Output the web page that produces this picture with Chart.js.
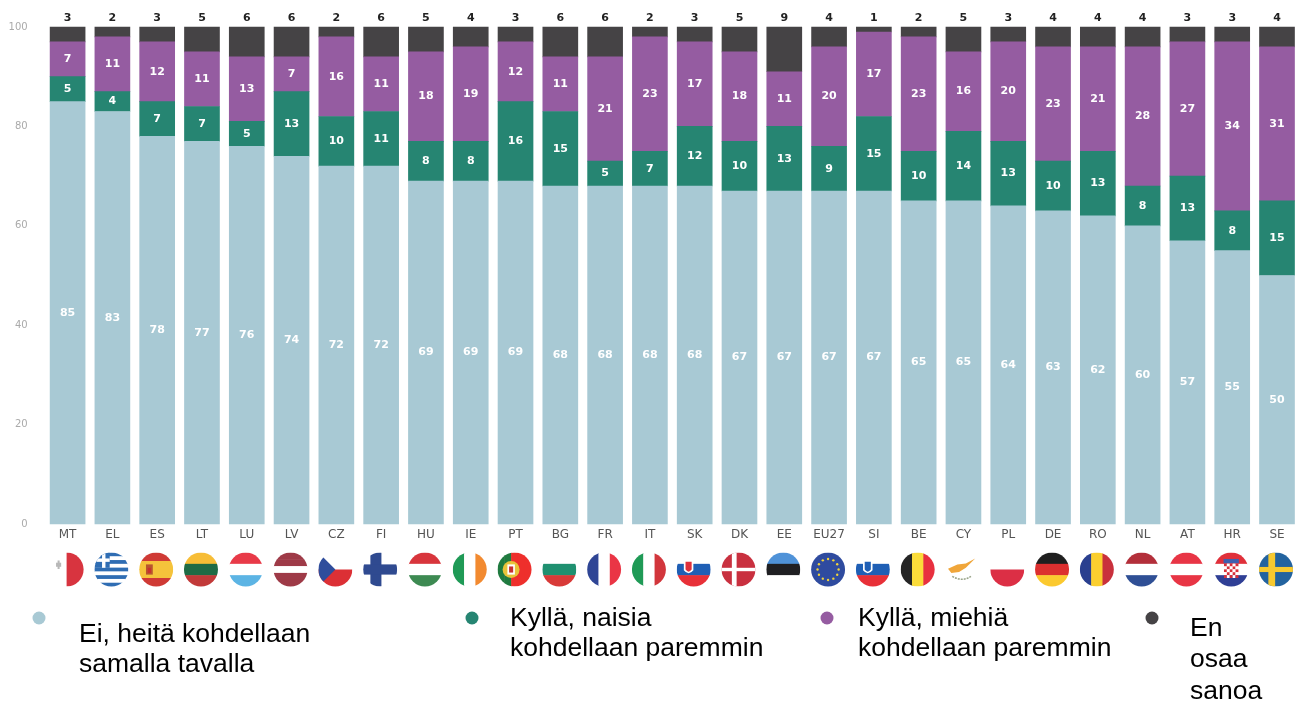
<!DOCTYPE html>
<html><head><meta charset="utf-8">
<style>html,body{margin:0;padding:0;background:#fff;overflow:hidden}canvas{display:block}</style>
<script src="https://cdn.jsdelivr.net/npm/chart.js@4/dist/chart.umd.min.js"></script>
</head><body>
<div style="width:1295px;height:702px;position:relative"><canvas id="c" width="1295" height="702"></canvas></div>
<script>
const categories=["MT","EL","ES","LT","LU","LV","CZ","FI","HU","IE","PT","BG","FR","IT","SK","DK","EE","EU27","SI","BE","CY","PL","DE","RO","NL","AT","HR","SE"];
const same=[85,83,78,77,76,74,72,72,69,69,69,68,68,68,68,67,67,67,67,65,65,64,63,62,60,57,55,50];
const women=[5,4,7,7,5,13,10,11,8,8,16,15,5,7,12,10,13,9,15,10,14,13,10,13,8,13,8,15];
const men=[7,11,12,11,13,7,16,11,18,19,12,11,21,23,17,18,11,20,17,23,16,20,23,21,28,27,34,31];
const dontKnow=[3,2,3,5,6,6,2,6,5,4,3,6,6,2,3,5,9,4,1,2,5,3,4,4,4,3,3,4];
const yTicks=[0,20,40,60,80,100];
const seriesNames=["Ei, heitä kohdellaan samalla tavalla","Kyllä, naisia kohdellaan paremmin","Kyllä, miehiä kohdellaan paremmin","En osaa sanoa"];
const seriesColors=["#a8c9d4","#268572","#955ca1","#454345"];
const legendLines=[["Ei, heitä kohdellaan","samalla tavalla"],["Kyllä, naisia","kohdellaan paremmin"],["Kyllä, miehiä","kohdellaan paremmin"],["En","osaa","sanoa"]];

const R="#dc3540",W="#ffffff",B="#2f4d9c";
const flags={
 MT:{v:[W,"#d8343f"]},
 EL:{h:["#2f6db3",W,"#2f6db3",W,"#2f6db3",W,"#2f6db3",W,"#2f6db3"],extra:"gr"},
 ES:{h:["#cf3a35","#f5c33b","#f5c33b","#cf3a35"],extra:"es"},
 LT:{h:["#f7bd36","#1f6b45","#c23a39"]},
 LU:{h:["#e83a48",W,"#5cb4e4"]},
 LV:{h:["#9e3a47","#9e3a47",W,"#9e3a47","#9e3a47"]},
 CZ:{h:[W,"#dc3035"],extra:"cz"},
 FI:{cross:[W,"#2f4a90"],t:[.65,.6]},
 HU:{h:["#d8353c",W,"#3d8a52"]},
 IE:{v:["#1f9a56",W,"#f28a30"]},
 PT:{v:["#1f7a3f","#1f7a3f","#ee2f2c","#ee2f2c","#ee2f2c"],extra:"pt"},
 BG:{h:[W,"#1f9070","#d83a38"]},
 FR:{v:["#2f4595",W,"#ea3545"]},
 IT:{v:["#1f9a56",W,"#d2363c"]},
 SK:{h:[W,"#1f5fb5","#e83038"],extra:"sk"},
 DK:{cross:["#c9303f",W],t:[.28,.2]},
 EE:{h:["#4f92d8","#1f1f22",W]},
 EU27:{h:["#2f4b9f"],extra:"eu"},
 SI:{h:[W,"#1f5fb5","#e83038"],extra:"si"},
 BE:{v:["#252525","#fbdc3a","#e8303f"]},
 CY:{none:true,extra:"cy"},
 PL:{h:[W,"#dc2f45"]},
 DE:{h:["#1f1f1f","#dc2f2f","#fbc92f"]},
 RO:{v:["#2a3f8f","#fbcf2f","#c9303c"]},
 NL:{h:["#b32f3a",W,"#2f4f95"]},
 AT:{h:["#e83545",W,"#e83545"]},
 HR:{h:["#e0303a",W,"#2f3f95"],extra:"hr"},
 SE:{cross:["#23639f","#f7c92f"],t:[.4,.3]}
};
function stripes(g,x,y,r,list,vertical){
 const n=list.length,s=2*r/n;
 list.forEach((c,i)=>{g.fillStyle=c;
  if(vertical)g.fillRect(x-r+i*s,y-r,s+.5,2*r);else g.fillRect(x-r,y-r+i*s,2*r,s+.5);});
}
function drawFlag(g,code,x,y,r){
 const f=flags[code];
 g.save();
 if(!f.none){g.beginPath();g.arc(x,y,r,0,Math.PI*2);g.clip();}
 if(f.h)stripes(g,x,y,r,f.h,false);
 if(f.v)stripes(g,x,y,r,f.v,true);
 if(f.cross){g.fillStyle=f.cross[0];g.fillRect(x-r,y-r,2*r,2*r);g.fillStyle=f.cross[1];
  const tv=f.t[0]*r,th=f.t[1]*r;
  g.fillRect(x-r*.25-tv/2,y-r,tv,2*r);g.fillRect(x-r,y-th/2,2*r,th);}
 const e=f.extra;
 if(e==="gr"){g.fillStyle="#2f6db3";g.fillRect(x-r,y-r,r*.9,r*.9);g.fillStyle=W;g.fillRect(x-r,y-r*.65,r*.9,r*.2);g.fillRect(x-r*.55,y-r,r*.2,r*.9);}
 if(e==="es"){g.fillStyle="#b8552f";g.fillRect(x-r*.6,y-r*.3,r*.4,r*.6);g.fillStyle="#c9302f";g.fillRect(x-r*.5,y-r*.1,r*.2,r*.3);}
 if(e==="cz"){g.fillStyle="#2f4d9c";g.beginPath();g.moveTo(x-r,y-r);g.lineTo(x,y);g.lineTo(x-r,y+r);g.fill();}
 if(e==="pt"){g.fillStyle="#e8c33a";g.beginPath();g.arc(x-r*.2,y,r*.5,0,7);g.fill();g.fillStyle=W;g.fillRect(x-r*.42,y-r*.3,r*.44,r*.6);g.fillStyle="#c92f2f";g.fillRect(x-r*.32,y-r*.18,r*.24,r*.36);}
 if(e==="sk"||e==="si"){const c=e==="sk"?"#e0303a":"#1f5fb5";g.fillStyle=W;g.beginPath();g.moveTo(x-r*.58,y-r*.55);g.lineTo(x-r*.02,y-r*.55);g.lineTo(x-r*.02,y+r*.05);g.quadraticCurveTo(x-r*.3,y+r*.4,x-r*.58,y+r*.05);g.fill();g.fillStyle=c;g.beginPath();g.moveTo(x-r*.48,y-r*.45);g.lineTo(x-r*.12,y-r*.45);g.lineTo(x-r*.12,y);g.quadraticCurveTo(x-r*.3,y+r*.25,x-r*.48,y);g.fill();}
 if(e==="eu"){g.fillStyle="#f2d43a";for(let i=0;i<12;i++){const a=i*Math.PI/6;g.beginPath();g.arc(x+Math.cos(a)*r*.62,y+Math.sin(a)*r*.62,r*.07,0,7);g.fill();}}
 if(e==="cy"){g.fillStyle="#f0a63a";g.beginPath();g.moveTo(x-r*.85,y-r*.05);g.lineTo(x-r*.3,y-r*.3);g.lineTo(x+r*.2,y-r*.35);g.lineTo(x+r*.75,y-r*.65);g.lineTo(x+r*.2,y-r*.1);g.lineTo(x-r*.2,y+r*.15);g.lineTo(x-r*.65,y+r*.2);g.closePath();g.fill();g.strokeStyle="#9aa58a";g.lineWidth=1.5;g.setLineDash([2,1]);g.beginPath();g.moveTo(x-r*.6,y+r*.4);g.quadraticCurveTo(x,y+r*.75,x+r*.5,y+r*.4);g.stroke();g.setLineDash([]);}
 if(e==="hr"){const s=r*.17;for(let a=0;a<5;a++)for(let b=0;b<5;b++){g.fillStyle=(a+b)%2?W:"#d8303a";g.fillRect(x-2.5*s+a*s,y-r*.35+b*s,s,s);}g.fillStyle="#3f5fae";g.fillRect(x-r*.45,y-r*.62,r*.9,r*.25);}
 g.restore();
 if(code==="MT"){g.fillStyle="#b8b8b8";g.fillRect(x-r*.62,y-r*.4,r*.3,r*.12*2);g.fillRect(x-r*.53,y-r*.53,r*.12,r*.5);}
}

const plugin={id:"extras",
 beforeDraw(c){const g=c.ctx;g.save();g.fillStyle="#fff";g.fillRect(0,0,c.width,c.height);g.restore();},
 afterDatasetsDraw(c){
  const g=c.ctx;g.save();
  g.textAlign="center";g.textBaseline="middle";
  c.data.datasets.forEach((d,di)=>{
   c.getDatasetMeta(di).data.forEach((el,i)=>{
    const v=d.data[i];
    if(di===3){g.fillStyle="#222";g.font="bold 11px 'DejaVu Sans'";g.fillText(v,el.x,el.y-8.5);}
    else{g.fillStyle="#fff";g.font="bold 11px 'DejaVu Sans'";g.fillText(v,el.x,(el.y+el.base)/2);}
   });
  });
  const xs=c.scales.x;
  categories.forEach((code,i)=>drawFlag(g,code,xs.getPixelForValue(i)-1,569.5,17));
  const dotX=[39,472,827,1152],textX=[79,510,858,1190],textY=[[635,665],[619,649],[619,649],[629,660,692]];
  g.textAlign="left";
  seriesNames.forEach((n,i)=>{
   g.fillStyle=seriesColors[i];g.beginPath();g.arc(dotX[i],618,6.5,0,7);g.fill();
   g.fillStyle="#000";g.font="26.5px 'Liberation Sans'";
   legendLines[i].forEach((t,j)=>g.fillText(t,textX[i],textY[i][j]));
  });
  g.restore();
 }};

new Chart(document.getElementById("c"),{
 type:"bar",
 data:{labels:categories,datasets:[same,women,men,dontKnow].map((d,i)=>({
  label:seriesNames[i],data:d,backgroundColor:seriesColors[i],borderWidth:0,barThickness:35,clip:false}))},
 options:{responsive:false,animation:false,
  layout:{padding:{top:27,right:18,left:0,bottom:0}},
  plugins:{legend:{display:false},tooltip:{enabled:false},title:{display:false}},
  scales:{
   x:{stacked:true,offset:false,grid:{display:false},border:{display:false},
    afterFit(s){s.height=178;},
    ticks:{autoSkip:false,maxRotation:0,minRotation:0,padding:-4,color:"#555",font:{family:"'DejaVu Sans'",size:12}}},
   y:{stacked:true,min:0,max:100,grid:{display:false},border:{display:false},
    afterFit(s){s.width=67.6;s.paddingTop=0;s.paddingBottom=0;},
    afterBuildTicks(s){s.ticks=yTicks.map(v=>({value:v}));},
    ticks:{padding:32,color:"#aaa",font:{family:"'DejaVu Sans'",size:10}}}
  }},
 plugins:[plugin]});
</script>
</body></html>
